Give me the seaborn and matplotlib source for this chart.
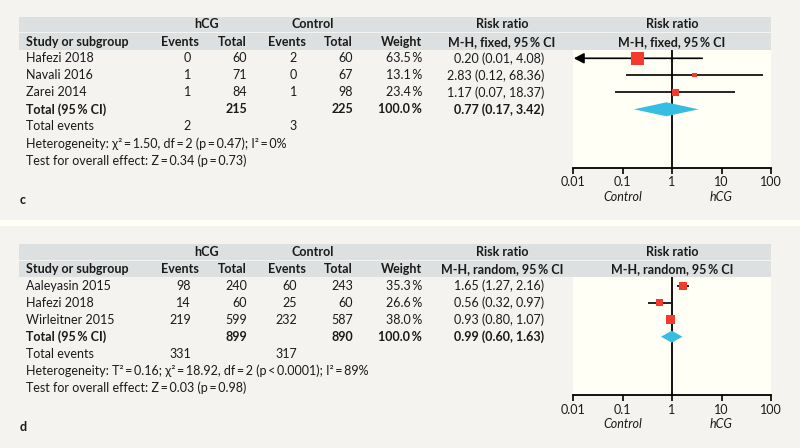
import numpy as np
import pandas as pd
import matplotlib
matplotlib.use("Agg")
import matplotlib.pyplot as plt
import seaborn as sns
from matplotlib.patches import Rectangle

sns.set_theme(style="white")
plt.rcParams['font.family'] = ['Lato', 'DejaVu Sans']

T = "\u2009"  # thin space

# ---------------- data: panel c ----------------
c_studies = ["Hafezi 2018", "Navali 2016", "Zarei 2014"]
c_hcg_events = [0, 1, 1]
c_hcg_total = [60, 71, 84]
c_ctl_events = [2, 0, 1]
c_ctl_total = [60, 67, 98]
c_weight = [63.5, 13.1, 23.4]
c_rr = [0.20, 2.83, 1.17]
c_lo = [0.01, 0.12, 0.07]
c_hi = [4.08, 68.36, 18.37]
c_total_n = [215, 225]
c_total_weight = 100.0
c_total_events = [2, 3]
c_total_rr = [0.77, 0.17, 3.42]
c_method = f"M-H, fixed, 95{T}% CI"
c_het = f"Heterogeneity: χ²{T}={T}1.50, df{T}={T}2 (p{T}={T}0.47); I²{T}={T}0%"
c_test = f"Test for overall effect: Z{T}={T}0.34 (p{T}={T}0.73)"

# ---------------- data: panel d ----------------
d_studies = ["Aaleyasin 2015", "Hafezi 2018", "Wirleitner 2015"]
d_hcg_events = [98, 14, 219]
d_hcg_total = [240, 60, 599]
d_ctl_events = [60, 25, 232]
d_ctl_total = [243, 60, 587]
d_weight = [35.3, 26.6, 38.0]
d_rr = [1.65, 0.56, 0.93]
d_lo = [1.27, 0.32, 0.80]
d_hi = [2.16, 0.97, 1.07]
d_total_n = [899, 890]
d_total_weight = 100.0
d_total_events = [331, 317]
d_total_rr = [0.99, 0.60, 1.63]
d_method = f"M-H, random, 95{T}% CI"
d_het = (f"Heterogeneity: T²{T}={T}0.16; χ²{T}={T}18.92, df{T}={T}2 "
         f"(p{T}<{T}0.0001); I²{T}={T}89%")
d_test = f"Test for overall effect: Z{T}={T}0.03 (p{T}={T}0.98)"

x_ticks = [0.01, 0.1, 1, 10, 100]
x_ticklabels = ["0.01", "0.1", "1", "10", "100"]
favours = ["Control", "hCG"]

# ---------------- style ----------------
BG = '#f4f3f0'
BAND = '#dce0e1'
CREAM = '#fffff5'
RED = '#f4392d'
CYAN = '#35bde2'
TXT = '#1a1a1a'
FS = 9.0

W, H = 800, 448
fig = plt.figure(figsize=(W / 100, H / 100), dpi=100)
fig.patch.set_facecolor(BG)
canvas = fig.add_axes([0, 0, 1, 1], zorder=0)
canvas.set_xlim(0, W)
canvas.set_ylim(H, 0)
canvas.axis('off')
canvas.add_patch(Rectangle((0, 220.5), W, 6, color=CREAM, lw=0))


def panel(o, label, studies, he, ht, ce, ct, wt, rr, lo, hi, tot_n, tot_w, tot_ev,
          tot_rr, method, het, test, kscale, dia_h):
    # header bands
    canvas.add_patch(Rectangle((18.5, o + 17), 752.5, 15.3, color=BAND, lw=0))
    canvas.add_patch(Rectangle((18.5, o + 33.5), 752.5, 16.5, color=BAND, lw=0))
    y1, y2 = o + 24.5, o + 41.7
    bold = dict(fontweight='bold', fontsize=FS, va='center', color=TXT)
    canvas.text(207, y1, "hCG", ha='center', **bold)
    canvas.text(313, y1, "Control", ha='center', **bold)
    canvas.text(502, y1, "Risk ratio", ha='center', **bold)
    canvas.text(672, y1, "Risk ratio", ha='center', **bold)
    canvas.text(26, y2, "Study or subgroup", ha='left', **bold)
    canvas.text(180, y2, "Events", ha='center', **bold)
    canvas.text(247, y2, "Total", ha='right', **bold)
    canvas.text(287, y2, "Events", ha='center', **bold)
    canvas.text(353, y2, "Total", ha='right', **bold)
    canvas.text(422, y2, "Weight", ha='right', **bold)
    canvas.text(502, y2, method, ha='center', **bold)
    canvas.text(672, y2, method, ha='center', **bold)

    reg = dict(fontsize=FS, va='center', color=TXT)
    row0, dy = o + 58.3, 17.0
    for i, s in enumerate(studies):
        y = row0 + i * dy
        canvas.text(26, y, s, ha='left', **reg)
        canvas.text(191, y, f"{he[i]}", ha='right', **reg)
        canvas.text(247, y, f"{ht[i]}", ha='right', **reg)
        canvas.text(297, y, f"{ce[i]}", ha='right', **reg)
        canvas.text(353, y, f"{ct[i]}", ha='right', **reg)
        canvas.text(422, y, f"{wt[i]:.1f}{T}%", ha='right', **reg)
        canvas.text(544, y, f"{rr[i]:.2f} ({lo[i]:.2f}, {hi[i]:.2f})", ha='right', **reg)
    n = len(studies)
    y = row0 + n * dy
    canvas.text(26, y, f"Total (95{T}% CI)", ha='left', **bold)
    canvas.text(247, y, f"{tot_n[0]}", ha='right', **bold)
    canvas.text(353, y, f"{tot_n[1]}", ha='right', **bold)
    canvas.text(422, y, f"{tot_w:.1f}{T}%", ha='right', **bold)
    canvas.text(544, y, f"{tot_rr[0]:.2f} ({tot_rr[1]:.2f}, {tot_rr[2]:.2f})", ha='right', **bold)
    y = row0 + (n + 1) * dy
    canvas.text(26, y, "Total events", ha='left', **reg)
    canvas.text(191, y, f"{tot_ev[0]}", ha='right', **reg)
    canvas.text(297, y, f"{tot_ev[1]}", ha='right', **reg)
    canvas.text(26, row0 + (n + 2) * dy, het, ha='left', **reg)
    canvas.text(26, row0 + (n + 3) * dy, test, ha='left', **reg)
    canvas.text(20, o + 200, label, ha='left', **bold)

    # forest plot axes
    top, bot = o + 50, o + 168
    ax = fig.add_axes([573 / W, 1 - bot / H, 198 / W, (bot - top) / H], zorder=2)
    ax.set_facecolor(CREAM)
    ax.set_xscale('log')
    ax.set_xlim(0.01, 100)
    ax.set_ylim((bot - row0) / dy, (top - row0) / dy)
    rows = np.arange(n)
    df = pd.DataFrame({'rr': rr, 'row': rows, 'w': wt})
    ax.axvline(1, color='black', lw=1.3, zorder=1)
    for i in range(n):
        if lo[i] <= 0.01:
            ax.annotate('', xy=(0.0104, i), xytext=(hi[i], i),
                        arrowprops=dict(arrowstyle='-|>,head_length=0.5,head_width=0.26',
                                        color='black', lw=1.2, shrinkA=0, shrinkB=0),
                        zorder=2)
        else:
            ax.plot([lo[i], hi[i]], [i, i], color='black', lw=1.2, zorder=2,
                    solid_capstyle='butt')
    sizes = (kscale * np.power(np.array(wt), 0.68) * 0.72) ** 2
    sns.scatterplot(data=df, x='rr', y='row', marker='s', s=sizes, color=RED,
                    linewidth=0, legend=False, ax=ax, zorder=3)
    ax.fill([tot_rr[1], tot_rr[0], tot_rr[2], tot_rr[0]],
            [n, n - dia_h, n, n + dia_h], color=CYAN, lw=0, zorder=3)
    for sp in ['top', 'left', 'right']:
        ax.spines[sp].set_visible(False)
    ax.spines['bottom'].set_color('black')
    ax.spines['bottom'].set_linewidth(1.3)
    ax.set_yticks([])
    ax.set_xticks(x_ticks)
    ax.set_xticklabels(x_ticklabels)
    ax.minorticks_off()
    ax.tick_params(axis='x', direction='out', length=4, width=1.2, color='black',
                   pad=2, labelsize=FS, labelcolor=TXT, bottom=True)
    ax.set_xlabel('')
    ax.set_ylabel('')
    yfrac = -(197 - 168) / (bot - top)
    ax.text(0.1, yfrac, favours[0], transform=ax.get_xaxis_transform(), ha='center',
            va='center', fontsize=FS, style='italic', color=TXT)
    ax.text(10, yfrac, favours[1], transform=ax.get_xaxis_transform(), ha='center',
            va='center', fontsize=FS, style='italic', color=TXT)


panel(0, "c", c_studies, c_hcg_events, c_hcg_total, c_ctl_events, c_ctl_total,
      c_weight, c_rr, c_lo, c_hi, c_total_n, c_total_weight, c_total_events, c_total_rr,
      c_method, c_het, c_test, kscale=0.755, dia_h=0.41)
panel(227.4, "d", d_studies, d_hcg_events, d_hcg_total, d_ctl_events, d_ctl_total,
      d_weight, d_rr, d_lo, d_hi, d_total_n, d_total_weight, d_total_events, d_total_rr,
      d_method, d_het, d_test, kscale=0.71, dia_h=0.35)

fig.savefig("out.png", dpi=100, facecolor=fig.get_facecolor())
